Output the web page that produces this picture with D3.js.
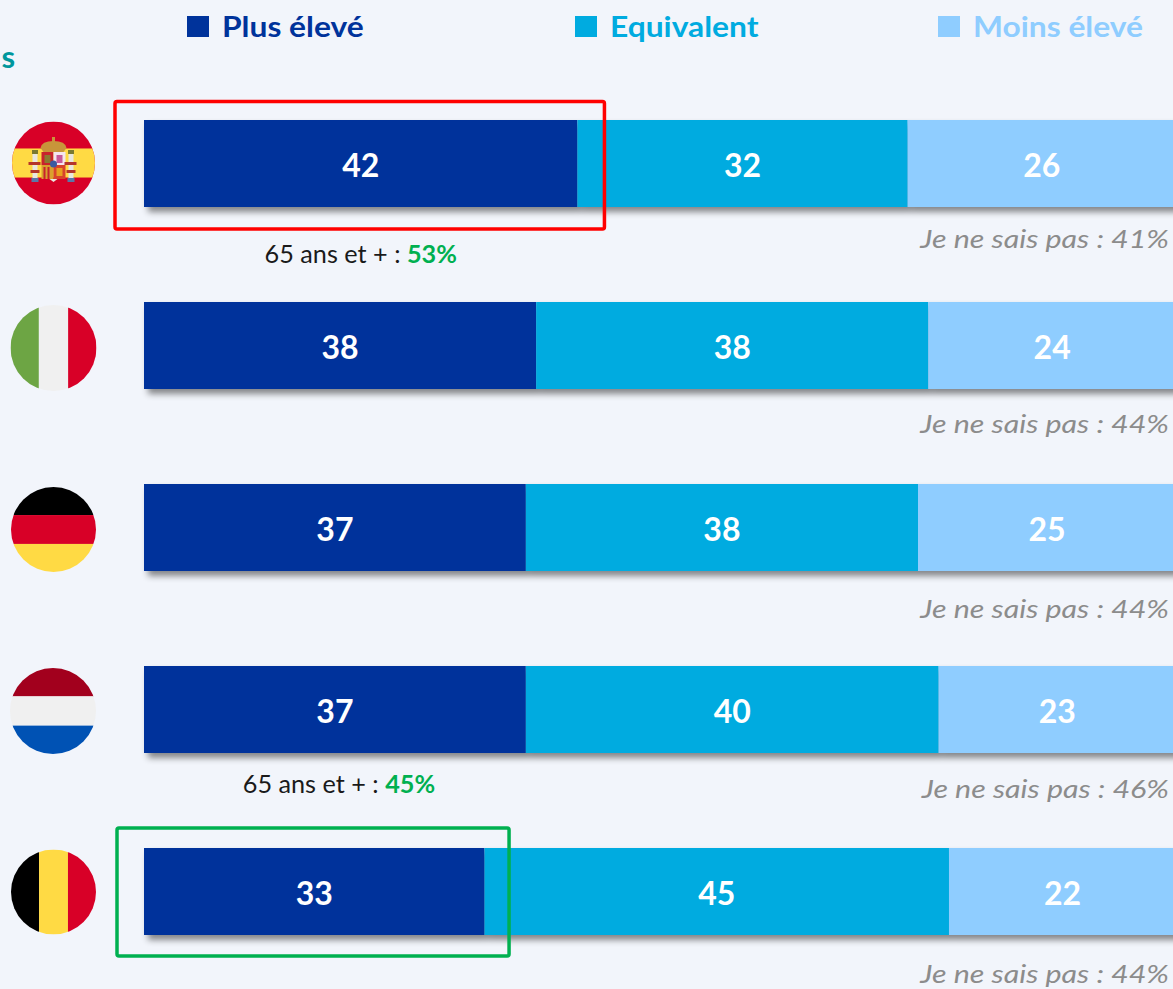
<!DOCTYPE html>
<html><head><meta charset="utf-8">
<script src="https://cdn.jsdelivr.net/npm/d3@7"></script>
<style>html,body{margin:0;padding:0;background:#f2f5fb;overflow:hidden}svg{display:block}text{font-family:Lato,sans-serif}</style>
</head><body><div id="c"></div>
<script>
const countries=["Espagne","Italie","Allemagne","Pays-Bas","Belgique"];
const series=["Plus élevé","Equivalent","Moins élevé"];
const plusEleve=[42,38,37,37,33];
const equivalent=[32,38,38,40,45];
const moinsEleve=[26,24,25,23,22];
const jeNeSaisPas=[41,44,44,46,44];
const seniors=[53,null,null,45,null];
const colors=["#00339b","#00abe0","#8fcdff"];
const W=1173,H=989;
const svg=d3.select("#c").append("svg").attr("width",W).attr("height",H);
const defs=svg.append("defs");
const f=defs.append("filter").attr("id","sh").attr("x","-5%").attr("y","-20%").attr("width","110%").attr("height","150%");
f.append("feDropShadow").attr("dx",4).attr("dy",5).attr("stdDeviation",3).attr("flood-color","#000").attr("flood-opacity",0.45);
// Stretch a text to mimic the wider geometric face of the original
const stretch=(sel,k)=>sel.each(function(){
  const n=this.getComputedTextLength();
  d3.select(this).attr("textLength",n*k).attr("lengthAdjust","spacingAndGlyphs");
});

const x=d3.scaleLinear().domain([0,100]).range([144,1176]);
const y=d3.scaleBand().domain(countries).range([120,935]).paddingInner(95/182);

// legend
const legendX=d3.scaleOrdinal().domain(series).range([187,575,938]);
const lg=svg.append("g").selectAll("g").data(series).join("g").attr("transform",d=>`translate(${legendX(d)},0)`);
lg.append("rect").attr("y",16).attr("width",22).attr("height",21).attr("fill",(d,i)=>colors[i]);
lg.append("text").attr("x",35).attr("y",37).attr("font-size",29).attr("font-weight",700).attr("fill",(d,i)=>colors[i]).text(d=>d).call(stretch,1.095);
svg.append("text").attr("x",15).attr("y",68).attr("text-anchor","end").attr("font-size",31).attr("font-weight",700).attr("fill","#00979d").text("s");

// bars
const seniorOffset=[56,0,0,40,0];
countries.forEach((c,i)=>{
  const vals=[plusEleve[i],equivalent[i],moinsEleve[i]];
  const st=d3.cumsum(vals);
  const g=svg.append("g");
  const bars=g.append("g").attr("filter","url(#sh)");
  vals.forEach((v,k)=>{
    const a=k?st[k-1]:0;
    bars.append("rect").attr("x",x(a)).attr("y",y(c)).attr("width",x(st[k])-x(a)).attr("height",y.bandwidth()).attr("fill",colors[k]);
  });
  vals.forEach((v,k)=>{
    const a=k?st[k-1]:0;
    g.append("text").attr("x",(x(a)+x(st[k]))/2).attr("y",y(c)+y.bandwidth()/2+13).attr("text-anchor","middle")
     .attr("font-size",32).attr("font-weight",700).attr("fill","#fff").text(v);
  });
  const dkY=[248,433,618,798,983][i];
  svg.append("text").attr("x",1169).attr("y",dkY).attr("text-anchor","end").attr("font-size",26).attr("font-style","italic").attr("fill","#8c8c8c")
     .text(`Je ne sais pas : ${jeNeSaisPas[i]}%`).call(stretch,1.17);
  if(seniors[i]!=null){
    const t=svg.append("text").attr("x",(x(0)+x(plusEleve[i]))/2+(i==3?4:0)).attr("y",y(c)+y.bandwidth()+seniorOffset[i]).attr("text-anchor","middle").attr("font-size",24.5).attr("fill","#1a1a1a");
    t.append("tspan").text("65 ans et + : ");
    t.append("tspan").attr("font-weight",700).attr("fill","#00b050").text(seniors[i]+"%");
    t.call(stretch,1.03);
  }
});

// highlight boxes
const box=(c,v,dl,dr,col,yy0,yy1)=>svg.append("rect").attr("x",x(0)+dl).attr("y",y(c)+yy0).attr("width",x(v)+dr-x(0)-dl).attr("height",y.bandwidth()+yy1-yy0)
  .attr("fill","none").attr("stroke",col).attr("stroke-width",3.5).attr("rx",2);
box("Espagne",plusEleve[0],-29,27,"#ff0000",-18.5,22);
box("Belgique",plusEleve[4],-27,24.5,"#00b050",-20,21);

// flags
const flagC=[[53.5,163,41.5],[53.5,348,43],[53.5,529.5,42.5],[53,711,43],[53.5,892,42.5]];
const flag=(i,fn)=>{
  const [cx,cy,r]=flagC[i];
  defs.append("clipPath").attr("id","fl"+i).append("circle").attr("cx",cx).attr("cy",cy).attr("r",r);
  const g=svg.append("g").attr("clip-path",`url(#fl${i})`);
  const R=(a,b,c,d,col)=>g.append("rect").attr("x",cx-r+a*2*r).attr("y",cy-r+b*2*r).attr("width",(c-a)*2*r).attr("height",(d-b)*2*r).attr("fill",col);
  fn(R,g,cx,cy,r);
};
flag(0,(R,g,cx,cy)=>{
  R(0,0,1,1,"#d80027");R(0,.325,1,.675,"#ffda44");
  const r=(X,Y,w,h,col)=>g.append("rect").attr("x",cx+X).attr("y",cy+Y).attr("width",w).attr("height",h).attr("fill",col);
  // shield
  r(-12,-11,12,13,"#c8232c");r(0,-11,12,13,"#f4e6ee");r(-12,2,12,14,"#d9a02e");r(0,2,12,14,"#d8432b");
  r(-9,-8,6,8,"#8a7a30");r(3,-8,6,8,"#c65b9a");r(-10,4,2,12,"#c8232c");r(-6,4,2,12,"#c8232c");r(3,5,6,8,"#e8a020");
  // crown
  g.append("path").attr("d",`M${cx-13},${cy-15}Q${cx-12},${cy-22} ${cx},${cy-22}Q${cx+12},${cy-22} ${cx+13},${cy-15}L${cx+10},${cy-11}L${cx-10},${cy-11}Z`).attr("fill","#c8953a");
  r(-1.5,-26,3,5,"#c8953a");
  g.append("circle").attr("cx",cx).attr("cy",cy+1).attr("r",3.5).attr("fill","#3a5aa0");
  g.append("path").attr("d",`M${cx-4},${cy+16}L${cx+4},${cy+16}L${cx},${cy+19}Z`).attr("fill","#e8e8e0");
  // pillars and ribbons
  [-21,15].forEach(X=>{r(X,-9,5,25,"#e8e8e0");r(X-.5,-13,6,4,"#7a7a30");r(X-1,15,7,4,"#5a78a8");r(X-4,-1,12,3,"#b5362a");r(X-2,7,9,3,"#b5362a");});
});
flag(1,R=>{R(0,0,.33,1,"#6da544");R(.33,0,.67,1,"#f0f0f0");R(.67,0,1,1,"#d80027");});
flag(2,R=>{R(0,0,1,.33,"#000");R(0,.33,1,.67,"#d80027");R(0,.67,1,1,"#ffda44");});
flag(3,R=>{R(0,0,1,.33,"#a2001d");R(0,.33,1,.67,"#f0f0f0");R(0,.67,1,1,"#0052b4");});
flag(4,R=>{R(0,0,.33,1,"#000");R(.33,0,.67,1,"#ffda44");R(.67,0,1,1,"#d80027");});
</script></body></html>
